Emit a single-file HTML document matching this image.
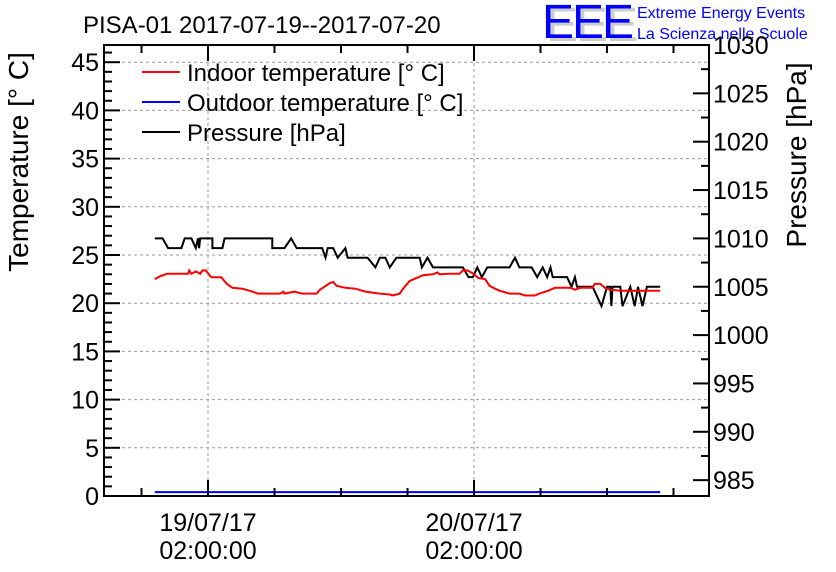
<!DOCTYPE html>
<html><head><meta charset="utf-8"><style>
body{margin:0;background:#fff;}
svg{display:block;font-family:"Liberation Sans",Arial,sans-serif;}
</style></head><body>
<svg id="chart" width="836" height="572" viewBox="0 0 836 572" xmlns="http://www.w3.org/2000/svg">
<rect x="0" y="0" width="836" height="572" fill="#fff"/>
<text x="83" y="33" font-size="24" fill="#000">PISA-01 2017-07-19--2017-07-20</text>
<g>
<text x="546" y="41" font-size="48" fill="#ccc" letter-spacing="-2">EEE</text>
<text x="542" y="38" font-size="48" fill="#0000ff" letter-spacing="-2">EEE</text>
<text x="637" y="18" font-size="16" fill="#0000ff">Extreme Energy Events</text>
<text x="637" y="39" font-size="16" fill="#0000ff">La Scienza nelle Scuole</text>
</g>
<g id="grid"></g>
<g id="series"></g>
<g id="axes"></g>
<text transform="translate(28,162) rotate(-90)" text-anchor="middle" font-size="28">Temperature [° C]</text>
<text transform="translate(806,155) rotate(-90)" text-anchor="middle" font-size="28">Pressure [hPa]</text>
<g>
<line x1="142" y1="72" x2="180" y2="72" stroke="#ff0000" stroke-width="2"/>
<text x="187" y="81" font-size="24">Indoor temperature [° C]</text>
<line x1="142" y1="102" x2="180" y2="102" stroke="#0000ff" stroke-width="2"/>
<text x="187" y="111" font-size="24">Outdoor temperature [° C]</text>
<line x1="142" y1="132" x2="180" y2="132" stroke="#000" stroke-width="2"/>
<text x="187" y="141" font-size="24">Pressure [hPa]</text>
</g>
</svg>
<script>
// hours since 2017-07-19 00:00
const indoorTimes=[-2.8,-2.3,-1.7,0.2,0.3,0.5,0.9,1.3,1.5,1.8,2.3,3.2,3.7,4.2,5.1,6.0,6.5,8.5,8.8,8.9,9.8,10.5,11.8,12.1,12.5,13.0,13.3,13.6,14.4,15.3,16.2,17.5,18.4,18.7,19.3,19.6,20.2,20.8,21.4,22.3,22.7,22.9,23.8,24.7,25.0,25.4,25.9,26.4,27.0,27.4,27.9,28.3,29.2,30.1,30.6,31.5,31.9,32.7,33.3,34.7,35.1,35.6,36.7,36.9,37.4,37.8,38.3,39.2,42.8];
const indoorTemps=[22.5,22.8,23.05,23.05,23.4,23.05,23.3,23.05,23.4,23.4,22.7,22.7,22.0,21.6,21.5,21.2,21.0,21.0,21.2,21.0,21.2,21.0,21.0,21.4,21.7,22.1,22.2,21.8,21.6,21.5,21.2,21.0,20.9,20.8,21.0,21.5,22.3,22.6,22.9,23.0,23.2,23.0,23.05,23.05,23.4,23.4,23.1,22.6,22.5,21.8,21.5,21.3,21.0,21.0,20.8,20.8,21.0,21.3,21.6,21.6,21.4,21.6,21.6,22.0,22.0,21.6,21.4,21.3,21.3];
const outdoorTimes=[-2.8,42.8];
const outdoorTemps=[0.4,0.4];
const pressureTimes=[-2.8,-2.1,-1.6,-0.4,-0.1,0.5,0.9,1.1,1.2,1.3,2.4,2.4,3.3,3.5,7.8,7.8,8.9,9.5,10.0,12.3,12.6,12.8,13.3,13.7,14.4,14.6,16.4,17.1,17.5,18.0,18.4,19.0,19.5,21.1,21.3,21.8,22.3,25.0,25.5,25.9,26.3,26.7,27.2,29.2,29.7,30.1,31.2,31.7,32.2,32.6,32.9,33.1,34.4,34.8,35.1,35.3,36.7,37.5,38.0,38.3,38.4,38.5,39.2,39.4,40.1,40.5,40.8,41.2,41.6,42.8];
const pressureValues=[1010,1010,1009,1009,1010,1010,1009,1010,1009,1010,1010,1009,1009,1010,1010,1009,1009,1010,1009,1009,1008,1009,1009,1008,1009,1008,1008,1007,1008,1008,1007,1008,1008,1008,1007,1008,1007,1007,1006,1006,1007,1006,1007,1007,1008,1007,1007,1006,1007,1006,1007,1006,1006,1005,1006,1005,1005,1003,1005,1005,1003,1005,1005,1003,1005,1003,1005,1003,1005,1005];
const tempTicks=[0,5,10,15,20,25,30,35,40,45];
const pressTicks=[985,990,995,1000,1005,1010,1015,1020,1025,1030];
const timeTickHours=[2,26];
const timeTickLabels=[["19/07/17","02:00:00"],["20/07/17","02:00:00"]];

const L=104,R=709,T=45,B=496;
const xOf=h=>208+(h-2)*266/24;
const yT=v=>B-v*9.64;
const yP=p=>45+(1030-p)*9.67;
const NS="http://www.w3.org/2000/svg";
function mk(parent,tag,attrs){const e=document.createElementNS(NS,tag);for(const k in attrs)e.setAttribute(k,attrs[k]);parent.appendChild(e);return e;}
const grid=document.getElementById('grid'),series=document.getElementById('series'),axes=document.getElementById('axes');

tempTicks.forEach(v=>{if(v===0)return;const l=mk(grid,'line',{x1:L,x2:R,y1:yT(v),y2:yT(v),stroke:'#999','stroke-dasharray':'3,3','stroke-width':1});

});
timeTickHours.forEach(h=>{const l=mk(grid,'line',{x1:xOf(h),x2:xOf(h),y1:T,y2:B,stroke:'#999','stroke-dasharray':'3,3','stroke-width':1});

});

function poly(times,vals,yf,color,name){const pts=times.map((t,i)=>xOf(t).toFixed(1)+','+yf(vals[i]).toFixed(1)).join(' ');
const p=mk(series,'polyline',{points:pts,fill:'none',stroke:color,'stroke-width':2});

}
poly(outdoorTimes,outdoorTemps,yT,'#0000ff','outdoor-temperature-line');
poly(pressureTimes,pressureValues,yP,'#000','pressure-line');
poly(indoorTimes,indoorTemps,yT,'#ff0000','indoor-temperature-line');

const frame=mk(axes,'rect',{x:L,y:T,width:R-L,height:B-T,fill:'none',stroke:'#000','stroke-width':2});


for(let v=0;v<=46;v++){const major=v%5===0;mk(axes,'line',{x1:L,x2:L+(major?16:8),y1:yT(v),y2:yT(v),stroke:'#000','stroke-width':2});}
tempTicks.forEach(v=>{const t=mk(axes,'text',{x:L-5,y:yT(v)+9,'text-anchor':'end','font-size':25});t.textContent=v;

});
for(let p=985;p<=1030;p+=2.5){const major=p%5===0;mk(axes,'line',{x1:R,x2:R-(major?16:8),y1:yP(p),y2:yP(p),stroke:'#000','stroke-width':2});}
pressTicks.forEach(p=>{const t=mk(axes,'text',{x:R+4,y:yP(p)+9,'font-size':25});t.textContent=p;

});
for(let h=-4;h<=46;h+=6){const x=xOf(h);if(x<L||x>R)continue;const major=((h-2)%24===0);const len=major?16:8;
mk(axes,'line',{x1:x,x2:x,y1:B,y2:B-len,stroke:'#000','stroke-width':2});
mk(axes,'line',{x1:x,x2:x,y1:T,y2:T+len,stroke:'#000','stroke-width':2});}
timeTickHours.forEach((h,i)=>{const x=xOf(h);timeTickLabels[i].forEach((s,j)=>{const t=mk(axes,'text',{x:x,y:531+j*28,'text-anchor':'middle','font-size':25});t.textContent=s;

});});
</script>
</body></html>
